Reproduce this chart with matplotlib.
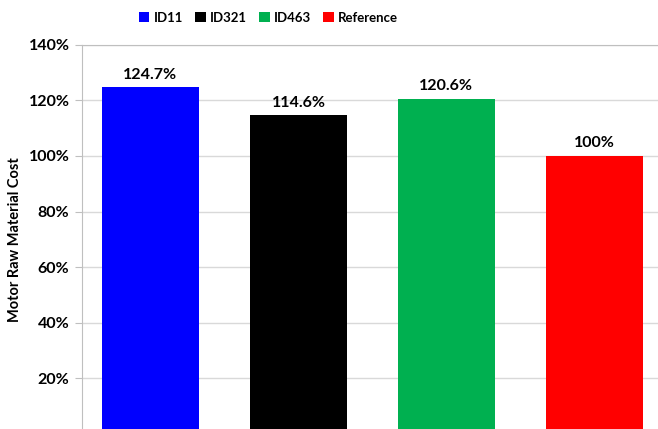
import numpy as np
import matplotlib
matplotlib.use("Agg")
import matplotlib.pyplot as plt
from matplotlib.patches import Patch

plt.rcParams['font.family'] = ['Lato', 'DejaVu Sans']
plt.rcParams['font.weight'] = 'bold'

# data
names = ["ID11", "ID321", "ID463", "Reference"]
costs = [124.7, 114.6, 120.6, 100.0]
labels = ["124.7%", "114.6%", "120.6%", "100%"]
colors = ["#0000ff", "#000000", "#00b050", "#ff0000"]
yticks = [0, 20, 40, 60, 80, 100, 120, 140]

fig = plt.figure(figsize=(6.58, 4.29), dpi=100)
# the reference is cropped: axes run slightly below the bottom edge
ax = fig.add_axes([0.1246, -0.0117, 0.8754, 0.9075])

xs = np.arange(len(names))
ax.bar(xs, costs, width=0.655, color=colors, zorder=3)
for x, v, lab in zip(xs, costs, labels):
    ax.text(x, v + 2.0, lab, ha='center', va='bottom', fontsize=11.5, fontweight='bold')

ax.set_xlim(-0.463, 3.43)
ax.set_ylim(0, 140)
ax.set_yticks(yticks)
ax.set_yticklabels(["%d%%" % t for t in yticks], fontsize=11.5, fontweight='bold')
ax.set_xticks([])
ax.yaxis.grid(True, color='#d9d9d9', linewidth=1, zorder=0)
ax.tick_params(axis='y', length=5, color='#bfbfbf', pad=4)

for s in ['right', 'bottom']:
    ax.spines[s].set_visible(False)
ax.spines['top'].set_color('#bfbfbf')
ax.spines['left'].set_color('#bfbfbf')

ax.set_ylabel("Motor Raw Material Cost", fontsize=10.5, fontweight='bold', labelpad=5)

handles = [Patch(facecolor=c, edgecolor='none') for c in colors]
fig.legend(handles, names, loc='center', bbox_to_anchor=(0.408, 0.958), ncol=4,
           frameon=False, handlelength=0.8, handleheight=0.8,
           handletextpad=0.35, columnspacing=0.9, prop={'weight': 'bold', 'size': 9.5})

fig.savefig("out.png", dpi=100)
